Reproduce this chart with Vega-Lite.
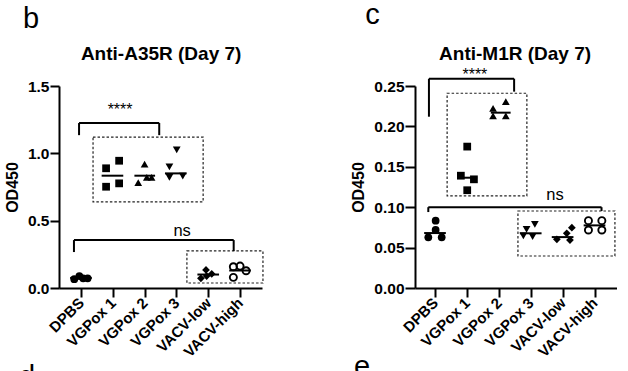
{
  "$schema": "https://vega.github.io/schema/vega-lite/v6.json",
  "background": "white",
  "padding": {"left": 4, "top": 0, "right": 0, "bottom": 0},
  "bounds": "flush",
  "spacing": 153,
  "config": {
    "view": {"stroke": null},
    "font": "Liberation Sans",
    "axis": {
      "domainColor": "black", "domainWidth": 2, "tickColor": "black", "tickWidth": 2, "tickSize": 9,
      "labelColor": "black", "labelFont": "Liberation Sans", "labelFontWeight": "bold", "labelFontSize": 15.5,
      "titleColor": "black", "titleFont": "Liberation Sans", "titleFontWeight": "bold", "titleFontSize": 16,
      "grid": false, "labelOverlap": false, "labelFlush": false, "labelBound": false
    }
  },
  "datasets": {
    "pts": [
      {"p":"A","g":"DPBS","x":-0.21,"y":0.065},{"p":"A","g":"DPBS","x":-0.05,"y":0.089},{"p":"A","g":"DPBS","x":0.07,"y":0.072},{"p":"A","g":"DPBS","x":0.21,"y":0.072},
      {"p":"A","g":"VGPox 1","x":0.79,"y":0.752},{"p":"A","g":"VGPox 1","x":1.2,"y":0.945},{"p":"A","g":"VGPox 1","x":0.79,"y":0.889},{"p":"A","g":"VGPox 1","x":1.2,"y":0.777},
      {"p":"A","g":"VGPox 2","x":2.0,"y":0.92},{"p":"A","g":"VGPox 2","x":1.8,"y":0.782},{"p":"A","g":"VGPox 2","x":2.07,"y":0.822},{"p":"A","g":"VGPox 2","x":2.22,"y":0.822},
      {"p":"A","g":"VGPox 3","x":3.01,"y":1.025},{"p":"A","g":"VGPox 3","x":2.78,"y":0.9},{"p":"A","g":"VGPox 3","x":2.78,"y":0.822},{"p":"A","g":"VGPox 3","x":3.2,"y":0.831},
      {"p":"A","g":"VACV-low","x":3.93,"y":0.134},{"p":"A","g":"VACV-low","x":3.77,"y":0.072},{"p":"A","g":"VACV-low","x":4.11,"y":0.104},{"p":"A","g":"VACV-low","x":3.95,"y":0.089},
      {"p":"A","g":"VACV-high","x":4.79,"y":0.158},{"p":"A","g":"VACV-high","x":5.0,"y":0.163},{"p":"A","g":"VACV-high","x":5.19,"y":0.128},{"p":"A","g":"VACV-high","x":4.79,"y":0.079},
      {"p":"B","g":"DPBS","x":0.02,"y":0.0833},{"p":"B","g":"DPBS","x":0.02,"y":0.0718},{"p":"B","g":"DPBS","x":-0.21,"y":0.0627},{"p":"B","g":"DPBS","x":0.21,"y":0.0627},
      {"p":"B","g":"VGPox 1","x":1.01,"y":0.175},{"p":"B","g":"VGPox 1","x":0.81,"y":0.139},{"p":"B","g":"VGPox 1","x":1.22,"y":0.1345},{"p":"B","g":"VGPox 1","x":1.01,"y":0.121},
      {"p":"B","g":"VGPox 2","x":2.22,"y":0.2306},{"p":"B","g":"VGPox 2","x":1.82,"y":0.2224},{"p":"B","g":"VGPox 2","x":1.82,"y":0.2129},{"p":"B","g":"VGPox 2","x":2.22,"y":0.2129},
      {"p":"B","g":"VGPox 3","x":3.13,"y":0.0788},{"p":"B","g":"VGPox 3","x":2.87,"y":0.0726},{"p":"B","g":"VGPox 3","x":2.77,"y":0.0644},{"p":"B","g":"VGPox 3","x":3.06,"y":0.0635},
      {"p":"B","g":"VACV-low","x":4.29,"y":0.0747},{"p":"B","g":"VACV-low","x":4.13,"y":0.0677},{"p":"B","g":"VACV-low","x":3.82,"y":0.0603},{"p":"B","g":"VACV-low","x":4.23,"y":0.0594},
      {"p":"B","g":"VACV-high","x":4.81,"y":0.0833},{"p":"B","g":"VACV-high","x":5.23,"y":0.0833},{"p":"B","g":"VACV-high","x":4.81,"y":0.0718},{"p":"B","g":"VACV-high","x":5.23,"y":0.0718}
    ],
    "means": [
      {"p":"A","x":-0.34,"x2":0.34,"y":0.075},{"p":"A","x":0.65,"x2":1.33,"y":0.834},{"p":"A","x":1.68,"x2":2.33,"y":0.834},
      {"p":"A","x":2.64,"x2":3.32,"y":0.851},{"p":"A","x":3.66,"x2":4.34,"y":0.1},{"p":"A","x":4.66,"x2":5.34,"y":0.13},
      {"p":"B","x":-0.34,"x2":0.34,"y":0.068},{"p":"B","x":0.69,"x2":1.32,"y":0.1365},{"p":"B","x":1.75,"x2":2.37,"y":0.217},
      {"p":"B","x":2.66,"x2":3.34,"y":0.0677},{"p":"B","x":3.66,"x2":4.34,"y":0.063},{"p":"B","x":4.66,"x2":5.34,"y":0.0775}
    ],
    "brackets": [
      {"p":"A","x":-0.06,"x2":2.46,"y":1.225,"y2":1.225},{"p":"A","x":-0.06,"x2":-0.06,"y":1.225,"y2":1.135},{"p":"A","x":2.46,"x2":2.46,"y":1.225,"y2":1.135},
      {"p":"A","x":-0.22,"x2":4.8,"y":0.356,"y2":0.356},{"p":"A","x":-0.22,"x2":-0.22,"y":0.356,"y2":0.267},{"p":"A","x":4.8,"x2":4.8,"y":0.356,"y2":0.275},
      {"p":"B","x":-0.19,"x2":2.48,"y":0.259,"y2":0.259},{"p":"B","x":-0.19,"x2":-0.19,"y":0.259,"y2":0.212},{"p":"B","x":2.48,"x2":2.48,"y":0.259,"y2":0.243},
      {"p":"B","x":-0.21,"x2":5.22,"y":0.1,"y2":0.1},{"p":"B","x":-0.21,"x2":-0.21,"y":0.1,"y2":0.094},{"p":"B","x":5.22,"x2":5.22,"y":0.1,"y2":0.0953}
    ],
    "boxes": [
      {"p":"A","x":0.38,"x2":3.84,"y":1.12,"y2":0.64},{"p":"A","x":3.33,"x2":5.72,"y":0.275,"y2":0.037},
      {"p":"B","x":0.38,"x2":2.88,"y":0.241,"y2":0.114},{"p":"B","x":2.6,"x2":5.64,"y":0.0953,"y2":0.0396}
    ],
    "labels": [
      {"p":"A","k":"title","x":2.52,"y":1.693,"t":"Anti-A35R (Day 7)"},
      {"p":"A","k":"letter","x":-1.82,"y":1.93,"t":"b"},
      {"p":"A","k":"letter","x":-1.95,"y":-0.728,"t":"d"},
      {"p":"A","k":"stars","x":1.23,"y":1.284,"t":"****"},
      {"p":"A","k":"ns","x":3.18,"y":0.386,"t":"ns"},
      {"p":"B","k":"title","x":2.51,"y":0.282,"t":"Anti-M1R (Day 7)"},
      {"p":"B","k":"letter","x":-2.19,"y":0.327,"t":"c"},
      {"p":"B","k":"letter","x":-2.54,"y":-0.109,"t":"e"},
      {"p":"B","k":"stars","x":1.25,"y":0.257,"t":"****"},
      {"p":"B","k":"ns","x":3.76,"y":0.109,"t":"ns"}
    ]
  },
  "hconcat": [
    {
      "width": 203, "height": 202,
      "encoding": {
        "x": {"field":"x","type":"quantitative","scale":{"domain":[-0.69,5.69],"nice":false,"zero":false},
              "axis":{"values":[0,1,2,3,4,5],"labelExpr":"['DPBS','VGPox 1','VGPox 2','VGPox 3','VACV-low','VACV-high'][datum.value]","title":null,"labelAngle":-45,"labelAlign":"right","labelBaseline":"middle","labelPadding":3,"labelFontSize":15}},
        "y": {"field":"y","type":"quantitative","scale":{"domain":[0,1.5],"nice":false,"zero":false},
              "axis":{"values":[0,0.5,1,1.5],"format":".1f","title":"OD450","titlePadding":7,"labelPadding":1}}
      },
      "layer": [
        {"data":{"name":"boxes"},"transform":[{"filter":"datum.p=='A'"}],"mark":{"type":"rect","fillOpacity":0,"stroke":"#222","strokeWidth":1.2,"strokeDash":[2.5,2]},"encoding":{"x2":{"field":"x2"},"y2":{"field":"y2"}}},
        {"data":{"name":"brackets"},"transform":[{"filter":"datum.p=='A'"}],"mark":{"type":"rule","color":"black","strokeWidth":2},"encoding":{"x2":{"field":"x2"},"y2":{"field":"y2"}}},
        {"data":{"name":"means"},"transform":[{"filter":"datum.p=='A'"}],"mark":{"type":"rule","color":"black","strokeWidth":2},"encoding":{"x2":{"field":"x2"}}},
        {"data":{"name":"pts"},"transform":[{"filter":"datum.p=='A' && datum.g!='VACV-high'"}],"mark":{"type":"point","filled":true,"color":"black","size":60,"opacity":1},
         "encoding":{"shape":{"field":"g","type":"nominal","scale":{"domain":["DPBS","VGPox 1","VGPox 2","VGPox 3","VACV-low"],"range":["circle","square","triangle-up","triangle-down","diamond"]},"legend":null}}},
        {"data":{"name":"pts"},"transform":[{"filter":"datum.p=='A' && datum.g=='VACV-high'"}],"mark":{"type":"point","shape":"circle","filled":false,"stroke":"black","strokeWidth":1.9,"size":50,"opacity":1}},
        {"data":{"name":"labels"},"transform":[{"filter":"datum.p=='A' && datum.k=='title'"}],"mark":{"type":"text","align":"center","baseline":"alphabetic","fontSize":19,"fontWeight":"bold","color":"black"},"encoding":{"text":{"field":"t"}}},
        {"data":{"name":"labels"},"transform":[{"filter":"datum.p=='A' && datum.k=='letter'"}],"mark":{"type":"text","align":"left","baseline":"alphabetic","fontSize":29,"color":"black"},"encoding":{"text":{"field":"t"}}},
        {"data":{"name":"labels"},"transform":[{"filter":"datum.p=='A' && datum.k=='stars'"}],"mark":{"type":"text","align":"center","baseline":"alphabetic","fontSize":16,"color":"black"},"encoding":{"text":{"field":"t"}}},
        {"data":{"name":"labels"},"transform":[{"filter":"datum.p=='A' && datum.k=='ns'"}],"mark":{"type":"text","align":"center","baseline":"alphabetic","fontSize":16.5,"color":"black"},"encoding":{"text":{"field":"t"}}}
      ]
    },
    {
      "width": 202, "height": 202,
      "encoding": {
        "x": {"field":"x","type":"quantitative","scale":{"domain":[-0.627,5.705],"nice":false,"zero":false},
              "axis":{"values":[0,1,2,3,4,5],"labelExpr":"['DPBS','VGPox 1','VGPox 2','VGPox 3','VACV-low','VACV-high'][datum.value]","title":null,"labelAngle":-45,"labelAlign":"right","labelBaseline":"middle","labelPadding":3,"labelFontSize":15}},
        "y": {"field":"y","type":"quantitative","scale":{"domain":[0,0.25],"nice":false,"zero":false},
              "axis":{"values":[0,0.05,0.1,0.15,0.2,0.25],"format":".2f","title":"OD450","titlePadding":7,"labelPadding":1,"tickSize":10}}
      },
      "layer": [
        {"data":{"name":"boxes"},"transform":[{"filter":"datum.p=='B'"}],"mark":{"type":"rect","fillOpacity":0,"stroke":"#222","strokeWidth":1.2,"strokeDash":[2.5,2]},"encoding":{"x2":{"field":"x2"},"y2":{"field":"y2"}}},
        {"data":{"name":"brackets"},"transform":[{"filter":"datum.p=='B'"}],"mark":{"type":"rule","color":"black","strokeWidth":2},"encoding":{"x2":{"field":"x2"},"y2":{"field":"y2"}}},
        {"data":{"name":"means"},"transform":[{"filter":"datum.p=='B'"}],"mark":{"type":"rule","color":"black","strokeWidth":2},"encoding":{"x2":{"field":"x2"}}},
        {"data":{"name":"pts"},"transform":[{"filter":"datum.p=='B' && datum.g!='VACV-high'"}],"mark":{"type":"point","filled":true,"color":"black","size":60,"opacity":1},
         "encoding":{"shape":{"field":"g","type":"nominal","scale":{"domain":["DPBS","VGPox 1","VGPox 2","VGPox 3","VACV-low"],"range":["circle","square","triangle-up","triangle-down","diamond"]},"legend":null}}},
        {"data":{"name":"pts"},"transform":[{"filter":"datum.p=='B' && datum.g=='VACV-high'"}],"mark":{"type":"point","shape":"circle","filled":false,"stroke":"black","strokeWidth":1.9,"size":50,"opacity":1}},
        {"data":{"name":"labels"},"transform":[{"filter":"datum.p=='B' && datum.k=='title'"}],"mark":{"type":"text","align":"center","baseline":"alphabetic","fontSize":19,"fontWeight":"bold","color":"black"},"encoding":{"text":{"field":"t"}}},
        {"data":{"name":"labels"},"transform":[{"filter":"datum.p=='B' && datum.k=='letter'"}],"mark":{"type":"text","align":"left","baseline":"alphabetic","fontSize":29,"color":"black"},"encoding":{"text":{"field":"t"}}},
        {"data":{"name":"labels"},"transform":[{"filter":"datum.p=='B' && datum.k=='stars'"}],"mark":{"type":"text","align":"center","baseline":"alphabetic","fontSize":16,"color":"black"},"encoding":{"text":{"field":"t"}}},
        {"data":{"name":"labels"},"transform":[{"filter":"datum.p=='B' && datum.k=='ns'"}],"mark":{"type":"text","align":"center","baseline":"alphabetic","fontSize":16.5,"color":"black"},"encoding":{"text":{"field":"t"}}}
      ]
    }
  ]
}
